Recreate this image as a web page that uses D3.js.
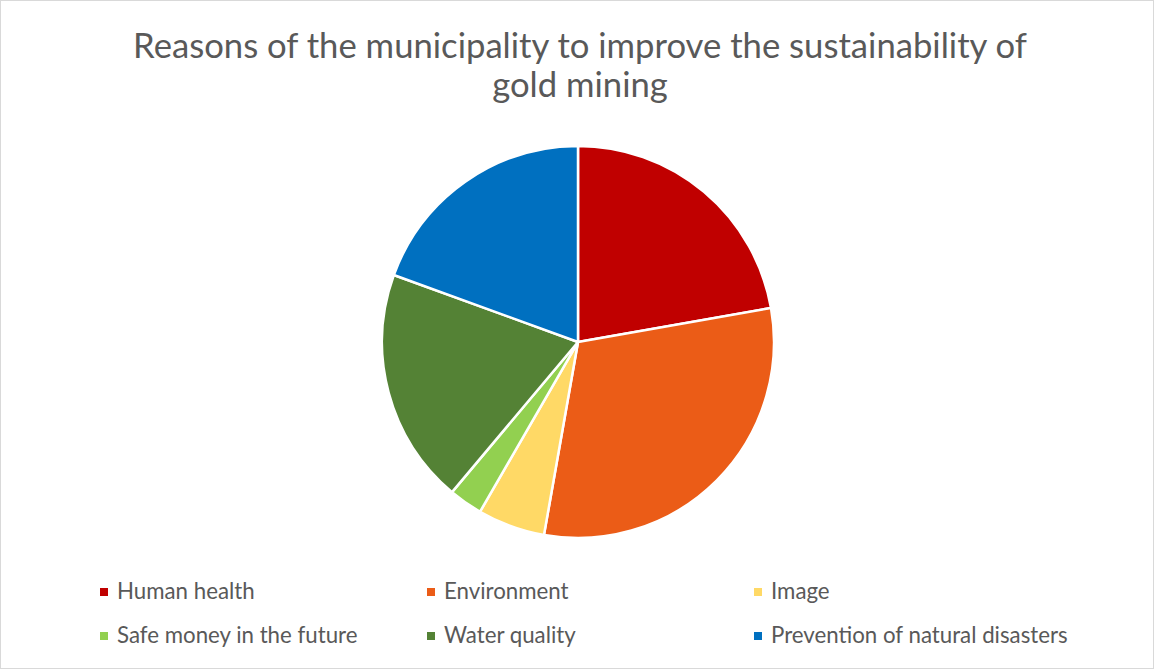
<!DOCTYPE html>
<html>
<head>
<meta charset="utf-8">
<script src="https://cdn.jsdelivr.net/npm/d3@7"></script>
<style>
  body { margin: 0; background: #fff; }
  svg text { font-family: Lato, "Open Sans", sans-serif; fill: #595959; }
</style>
</head>
<body>
<svg id="chart" width="1154" height="669"></svg>
<script>
// chart data
var titleLines = ["Reasons of the municipality to improve the sustainability of", "gold mining"];
var categories = ["Human health", "Environment", "Image", "Safe money in the future", "Water quality", "Prevention of natural disasters"];
var counts = [8, 11, 2, 1, 7, 7];
var colors = ["#C00000", "#EB5C17", "#FFD966", "#92D050", "#548235", "#0070C0"];

var svg = d3.select("#chart");
var W = 1154, H = 669;

// frame
svg.append("rect")
    .attr("x", 0.5).attr("y", 0.5)
    .attr("width", W - 1).attr("height", H - 1)
    .attr("fill", "#fff").attr("stroke", "#d9d9d9");

// title, sized so the first line spans like the original
var title = svg.append("g");
title.selectAll("text").data(titleLines).enter().append("text")
    .attr("x", 580)
    .attr("y", function (d, i) { return 58 + i * 39; })
    .attr("text-anchor", "middle")
    .style("font-size", "32px")
    .text(function (d) { return d; });
var w0 = title.select("text").node().getComputedTextLength();
title.selectAll("text").style("font-size", (32 * 894 / w0) + "px");

// pie
var cx = 578, cy = 342, r = 196;
var pie = d3.pie().sort(null).value(function (d) { return d; });
var arc = d3.arc().innerRadius(0).outerRadius(r);
var g = svg.append("g").attr("transform", "translate(" + cx + "," + cy + ")");
g.selectAll("path").data(pie(counts)).enter().append("path")
    .attr("d", arc)
    .attr("fill", function (d, i) { return colors[i]; })
    .attr("stroke", "#fff")
    .attr("stroke-width", 2.5)
    .attr("stroke-linejoin", "round");

// legend
var colX = [100, 427, 754];
var rowY = [592, 636];
var leg = svg.append("g").selectAll("g").data(categories).enter().append("g")
    .attr("transform", function (d, i) {
        return "translate(" + colX[i % 3] + "," + rowY[Math.floor(i / 3)] + ")";
    });
leg.append("rect")
    .attr("x", 0).attr("y", -4)
    .attr("width", 8).attr("height", 8)
    .attr("fill", function (d, i) { return colors[i]; });
var legText = leg.append("text")
    .attr("x", 17).attr("y", 7)
    .style("font-size", "19px")
    .text(function (d) { return d; });
// longest label spans about 297px in the original
var wl = legText.filter(function (d, i) { return i === 5; }).node().getComputedTextLength();
legText.style("font-size", (19 * 297 / wl) + "px");
</script>
</body>
</html>
